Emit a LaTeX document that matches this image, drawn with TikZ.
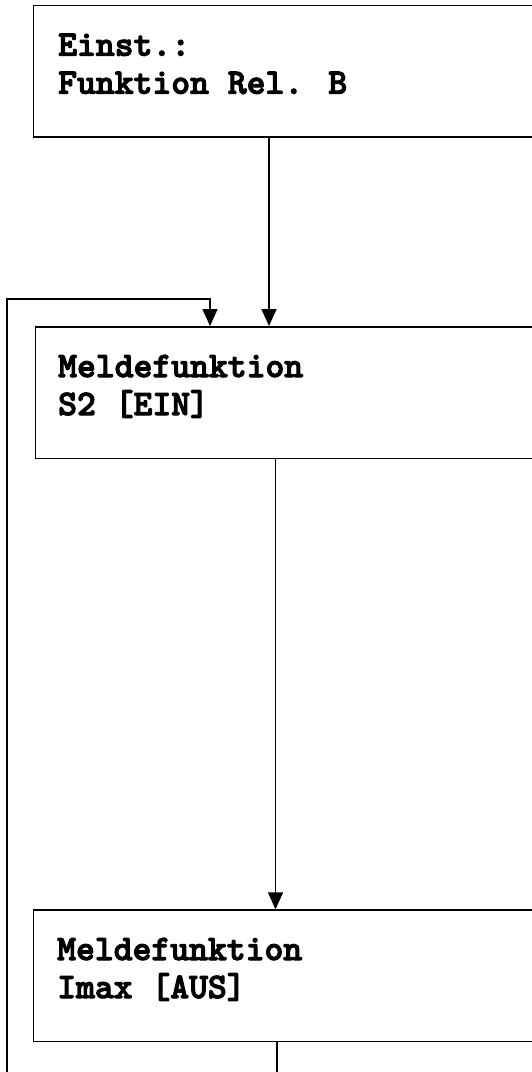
\documentclass[tikz,border=0pt]{standalone}
\usepackage{fontspec}
\newfontfamily\cour{lmmonolt10-bold.otf}[FakeBold=3]
\usetikzlibrary{arrows.meta}
\begin{document}
\begin{tikzpicture}[x=1pt,y=-1pt,
  boxnode/.style={draw, line width=1.6pt, minimum width=640pt, minimum height=131.5pt, anchor=north west, inner sep=0pt},
  txt/.style={anchor=base west, inner sep=0pt, font=\cour\fontsize{35.9}{38}\selectfont},
  conn/.style={line width=1.8pt},
  arr/.style={conn, -{Triangle[length=17pt,width=15pt]}}]
\useasboundingbox (0,0) rectangle (532,1072);
\clip (0,0) rectangle (532,1072);
% boxes
\node[boxnode] (b1) at (32.7,4.7) {};
\node[boxnode] (b2) at (34.5,326) {};
\node[boxnode] (b3) at (32.7,909.3) {};
% texts
\node[txt] (t1) at (58,55.7) {\begin{tabular}[t]{@{}l@{}}Einst.:\\Funktion Rel. B\end{tabular}};
\node[txt] (t2) at (58,377) {\begin{tabular}[t]{@{}l@{}}Meldefunktion\\S2 [EIN]\end{tabular}};
\node[txt] (t3) at (57,960) {\begin{tabular}[t]{@{}l@{}}Meldefunktion\\Imax [AUS]\end{tabular}};
% reference x positions
\coordinate (xa) at (269,0);
\coordinate (xb) at (275.5,0);
\coordinate (xr) at (210,0);
\coordinate (loopbot) at (7.3,1090);
\coordinate (looptop) at (7.3,299);
\coordinate (outbot) at (277,1090);
% connectors
\draw[arr] (b1.south -| xa) -- (b2.north -| xa);
\draw[arr] (b2.south -| xb) -- (b3.north -| xb);
\draw[conn] (b3.south -| outbot) -- (outbot);
\draw[arr] (loopbot) -- (looptop) -- (looptop -| xr) -- (b2.north -| xr);
\end{tikzpicture}
\end{document}
